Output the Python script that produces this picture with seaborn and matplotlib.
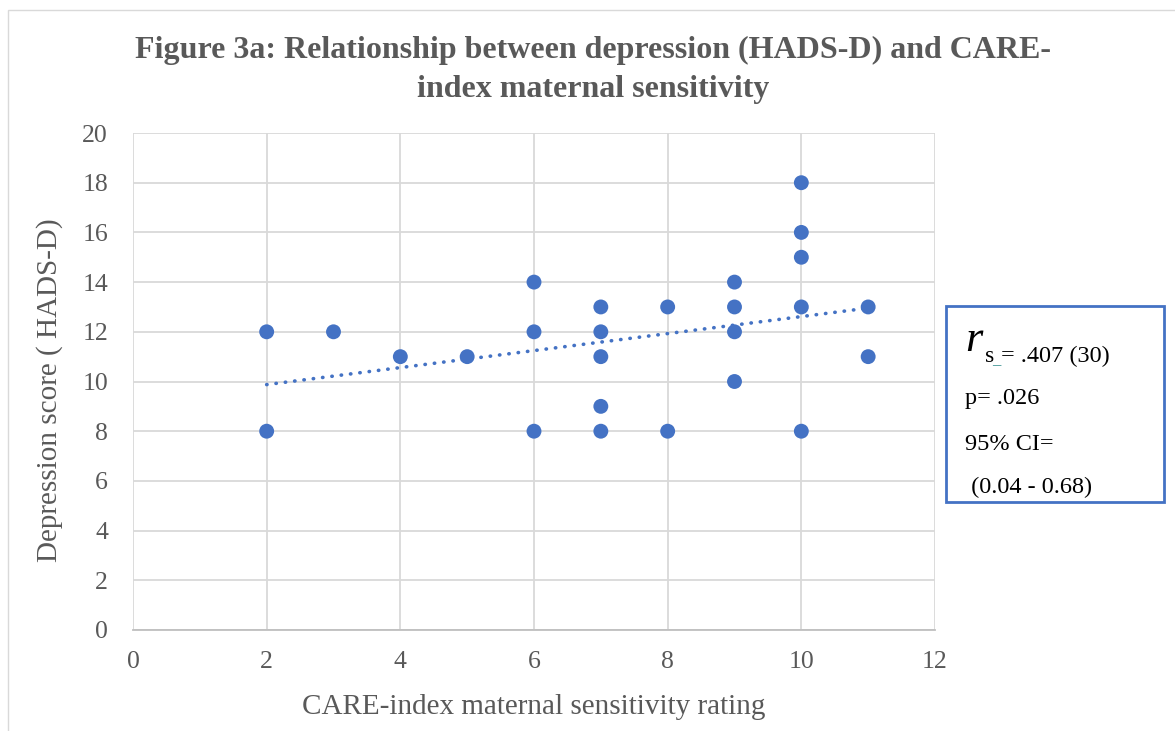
import matplotlib
matplotlib.use("Agg")
import matplotlib.pyplot as plt
import seaborn as sns
import pandas as pd
from matplotlib.patches import Rectangle

# Data
sensitivity = [2, 2, 3, 4, 5, 6, 6, 6, 7, 7, 7, 7, 7, 8, 8, 9, 9, 9, 9, 10, 10, 10, 10, 10, 11, 11]
depression = [12, 8, 12, 11, 11, 14, 12, 8, 13, 12, 11, 9, 8, 13, 8, 14, 13, 12, 10, 18, 16, 15, 13, 8, 13, 11]
x_ticks = [0, 2, 4, 6, 8, 10, 12]
y_ticks = [0, 2, 4, 6, 8, 10, 12, 14, 16, 18, 20]

title = "Figure 3a: Relationship between depression (HADS-D) and CARE-\nindex maternal sensitivity"
xlabel = "CARE-index maternal sensitivity rating"
ylabel = "Depression score ( HADS-D)"

df = pd.DataFrame({"x": sensitivity, "y": depression})

sns.set_theme(style="white")
plt.rcParams["font.family"] = ["Liberation Serif", "DejaVu Serif"]

BLUE = "#4472C4"
GRAY = "#595959"

W, H = 1175, 731
fig = plt.figure(figsize=(W / 100, H / 100), dpi=100)
ax = fig.add_axes([133 / W, 1 - 630 / H, (935 - 133) / W, (630 - 133) / H])

sns.regplot(data=df, x="x", y="y", ax=ax, ci=None,
            scatter_kws=dict(s=115, color=BLUE, edgecolors="none", alpha=1, zorder=3),
            line_kws=dict(color=BLUE, linestyle=(0, (0.1, 2.5)), linewidth=2.6, zorder=2,
                          dash_capstyle="round"))

ax.set_xlim(0, 12)
ax.set_ylim(0, 20)
ax.set_xticks(x_ticks)
ax.set_yticks(y_ticks)
ax.grid(True, color="#d9d9d9", linewidth=1.3)
ax.set_axisbelow(True)
for s in ["top", "right", "left"]:
    ax.spines[s].set_visible(False)
ax.spines["bottom"].set_color("#bfbfbf")
ax.spines["bottom"].set_linewidth(1.3)
ax.tick_params(axis="both", length=0, labelsize=18.5, labelcolor=GRAY)
ax.tick_params(axis="x", pad=15)
ax.tick_params(axis="y", pad=18)

ax.set_xlabel(xlabel, fontsize=21, color=GRAY)
ax.set_ylabel(ylabel, fontsize=21, color=GRAY)
ax.xaxis.set_label_coords(0.5, -(694 - 630) / (630 - 133))
ax.yaxis.set_label_coords(-(133 - 63) / (935 - 133), (630 - 390) / (630 - 133))

fig.text(593 / W, 1 - 70 / H, title, ha="center", va="center",
         fontsize=23, fontweight="bold", color=GRAY, linespacing=1.46)

# Figure frame (chart area border)
fig.patches.append(Rectangle((8 / W, -0.1), 1.2, 1 - 10 / H + 0.1, transform=fig.transFigure,
                             fill=False, edgecolor="#d9d9d9", linewidth=1))

# Statistics box
fig.patches.append(Rectangle((946 / W, 1 - 502 / H), (1164 - 946) / W, (502 - 306) / H,
                             transform=fig.transFigure, fill=False, edgecolor=BLUE, linewidth=2))
fig.text(965 / W, 1 - 351 / H, "r", fontsize=32, style="italic", va="baseline", color="black")
fig.text(985 / W, 1 - 362 / H, "s", fontsize=17, va="baseline", color="black")
fig.text(992 / W, 1 - 364 / H, "_", fontsize=12, va="baseline", color="#2E8B8B")
fig.text(1001 / W, 1 - 362 / H, "= .407 (30)", fontsize=17.5, va="baseline", color="black")
fig.text(965 / W, 1 - 399 / H, "p= .026", fontsize=17.5, va="center", color="black")
fig.text(965 / W, 1 - 444 / H, "95% CI=", fontsize=17.5, va="center", color="black")
fig.text(965 / W, 1 - 487 / H, " (0.04 - 0.68)", fontsize=17.5, va="center", color="black")

fig.savefig("out.png", dpi=100)
